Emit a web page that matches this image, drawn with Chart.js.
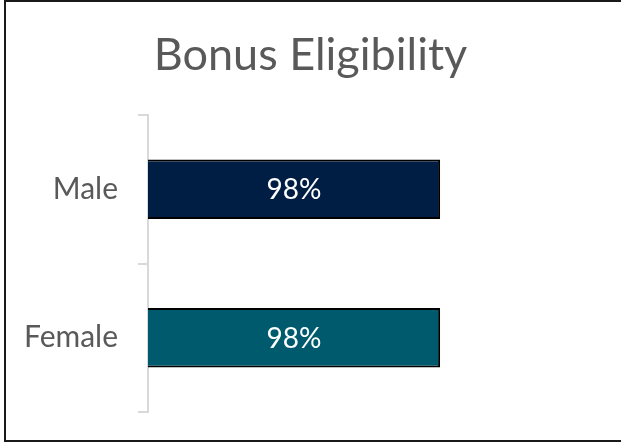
<!DOCTYPE html>
<html>
<head>
<meta charset="utf-8">
<script src="https://cdn.jsdelivr.net/npm/chart.js@4"></script>
<style>
  html, body { margin: 0; padding: 0; background: #fff; overflow: hidden; }
  #wrap { position: relative; width: 621px; height: 445px; }
  #frame { position: absolute; left: 4px; top: 0; width: 640px; height: 438px; border: 2px solid #1a1a1a; pointer-events: none; }
  canvas { position: absolute; left: 0; top: 0; }
</style>
</head>
<body>
<div id="wrap">
  <canvas id="bonusChart" width="621" height="445"></canvas>
  <div id="frame"></div>
</div>
<script>
const categories = ['Male', 'Female'];
const values = [98, 98];
const barColors = ['#001E44', '#005A6E'];
const valueLabels = ['98%', '98%'];

// write the value in the middle of each bar
const barLabels = {
    id: 'barLabels',
    afterDatasetsDraw(chart) {
        const ctx = chart.ctx;
        const meta = chart.getDatasetMeta(0);
        ctx.save();
        ctx.fillStyle = '#ffffff';
        ctx.font = '28px Lato, "Open Sans", sans-serif';
        ctx.textAlign = 'center';
        ctx.textBaseline = 'middle';
        meta.data.forEach((bar, i) => {
            ctx.fillText(valueLabels[i], (bar.x + bar.base) / 2, bar.y + 1);
        });
        ctx.restore();
    }
};

function initChart() {
    const ctx = document.getElementById('bonusChart').getContext('2d');
    new Chart(ctx, {
        type: 'bar',
        data: {
            labels: categories,
            datasets: [{ data: values, backgroundColor: barColors, borderColor: '#000000', borderWidth: 2, categoryPercentage: 1, barPercentage: 0.4 }]
        },
        options: {
            indexAxis: 'y',
            responsive: false,
            animation: false,
            layout: { padding: { left: 5, right: 5, top: 0, bottom: 33 } },
            plugins: {
                legend: { display: false },
                tooltip: { enabled: false },
                title: { display: true, text: 'Bonus Eligibility', color: '#595959', font: { family: 'Lato, "Open Sans", sans-serif', size: 45, weight: 'normal' }, padding: { top: 28, bottom: 33 } }
            },
            scales: {
                x: { display: false, min: 0, max: 157 },
                y: {
                    afterFit: (scale) => { scale.width = 143; scale.paddingTop = 0; scale.paddingBottom = 0; },
                    border: { display: true, color: '#d9d9d9', width: 2 },
                    grid: { offset: true, drawOnChartArea: false, drawTicks: true, tickLength: 10, color: '#d9d9d9', lineWidth: 2 },
                    ticks: { color: '#595959', padding: 20, font: { family: 'Lato, "Open Sans", sans-serif', size: 30 } }
                }
            }
        },
        plugins: [barLabels]
    });
}

document.addEventListener('DOMContentLoaded', initChart);
</script>
</body>
</html>
